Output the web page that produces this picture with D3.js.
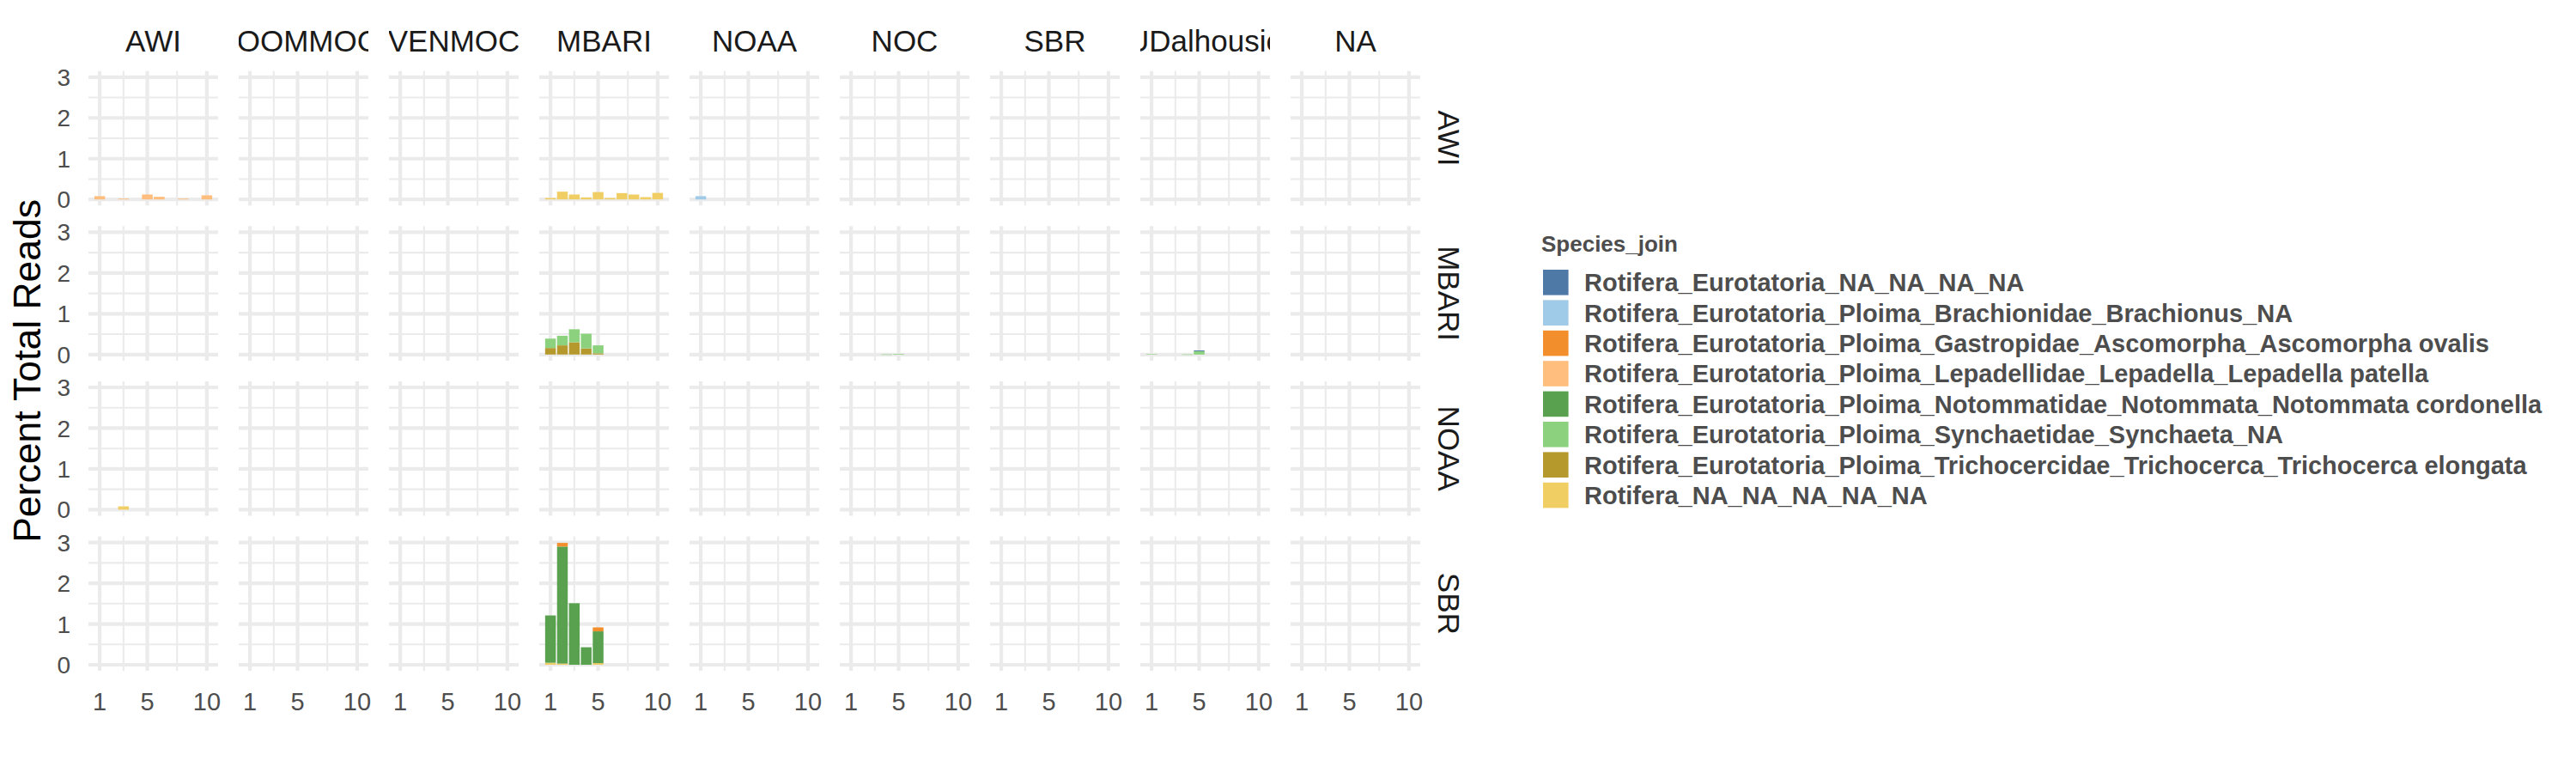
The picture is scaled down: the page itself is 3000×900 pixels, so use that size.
<!DOCTYPE html>
<html>
<head>
<meta charset="utf-8">
<script src="https://cdn.jsdelivr.net/npm/d3@7"></script>
<style>
  html, body { margin: 0; padding: 0; background: #ffffff; }
  svg { display: block; }
  text { font-family: "Liberation Sans", Arial, Helvetica, sans-serif; }
</style>
</head>
<body>
<svg id="chart" width="3000" height="900"></svg>
<script>
// ---------------- DATA ----------------
const colLabels = ["AWI", "IOOMMOC", "VENMOC", "MBARI", "NOAA", "NOC", "SBR", "UDalhousie", "NA"];
const rowLabels = ["AWI", "MBARI", "NOAA", "SBR"];
const species = [
  "Rotifera_Eurotatoria_NA_NA_NA_NA",
  "Rotifera_Eurotatoria_Ploima_Brachionidae_Brachionus_NA",
  "Rotifera_Eurotatoria_Ploima_Gastropidae_Ascomorpha_Ascomorpha ovalis",
  "Rotifera_Eurotatoria_Ploima_Lepadellidae_Lepadella_Lepadella patella",
  "Rotifera_Eurotatoria_Ploima_Notommatidae_Notommata_Notommata cordonella",
  "Rotifera_Eurotatoria_Ploima_Synchaetidae_Synchaeta_NA",
  "Rotifera_Eurotatoria_Ploima_Trichocercidae_Trichocerca_Trichocerca elongata",
  "Rotifera_NA_NA_NA_NA_NA"
];
const speciesColors = ["#4E79A7", "#A0CBE8", "#F28E2B", "#FFBE7D", "#59A14F", "#8CD17D", "#B6992D", "#F1CE63"];
const samples = [1, 2, 3, 4, 5, 6, 7, 8, 9, 10];
const xTicks = [1, 5, 10];
const yTicks = [0, 1, 2, 3];

// values per sample (1..10), percent of total reads
// row AWI
const awi_AWI_Lepadella     = [0.08, 0, 0.02, 0, 0.12, 0.065, 0, 0.02, 0, 0.10];
const awi_MBARI_RotiferaNA  = [0.035, 0.19, 0.12, 0.05, 0.18, 0.035, 0.155, 0.12, 0.056, 0.16];
const awi_NOAA_Brachionus   = [0.08, 0, 0, 0, 0, 0, 0, 0, 0, 0];
// row MBARI
const mbari_MBARI_Trichocerca = [0.16, 0.225, 0.30, 0.15, 0.03, 0, 0, 0, 0, 0];
const mbari_MBARI_Synchaeta   = [0.23, 0.235, 0.32, 0.36, 0.195, 0, 0, 0, 0, 0];
const mbari_NOC_Synchaeta     = [0, 0, 0, 0.004, 0.015, 0, 0, 0, 0, 0];
const mbari_UDal_Synchaeta    = [0.01, 0, 0, 0.004, 0.08, 0, 0, 0, 0, 0];
const mbari_UDal_EurotNA      = [0, 0, 0, 0, 0.02, 0, 0, 0, 0, 0];
// row NOAA
const noaa_AWI_RotiferaNA     = [0, 0, 0.08, 0, 0, 0, 0, 0, 0, 0];
// row SBR
const sbr_MBARI_RotiferaNA    = [0.05, 0.03, 0, 0, 0.04, 0, 0, 0, 0, 0];
const sbr_MBARI_Notommata     = [1.16, 2.87, 1.51, 0.43, 0.78, 0, 0, 0, 0, 0];
const sbr_MBARI_Ascomorpha    = [0, 0.09, 0, 0, 0.097, 0, 0, 0, 0, 0];

// series table: [row, column, species index, values]
const seriesTable = [
  ["AWI", "AWI", 3, awi_AWI_Lepadella],
  ["AWI", "MBARI", 7, awi_MBARI_RotiferaNA],
  ["AWI", "NOAA", 1, awi_NOAA_Brachionus],
  ["MBARI", "MBARI", 6, mbari_MBARI_Trichocerca],
  ["MBARI", "MBARI", 5, mbari_MBARI_Synchaeta],
  ["MBARI", "NOC", 5, mbari_NOC_Synchaeta],
  ["MBARI", "UDalhousie", 5, mbari_UDal_Synchaeta],
  ["MBARI", "UDalhousie", 0, mbari_UDal_EurotNA],
  ["NOAA", "AWI", 7, noaa_AWI_RotiferaNA],
  ["SBR", "MBARI", 7, sbr_MBARI_RotiferaNA],
  ["SBR", "MBARI", 4, sbr_MBARI_Notommata],
  ["SBR", "MBARI", 2, sbr_MBARI_Ascomorpha]
];

// ---------------- LAYOUT ----------------
const panelLeft0 = 103, panelStep = 175, panelW = 151;
const rowTop0 = 82.7, rowStep = 180.6, panelH = 156.6;
const gridColor = "#EBEBEB";
const majorW = 4.2, minorW = 2.1;

const svg = d3.select("#chart");
svg.append("rect").attr("width", 3000).attr("height", 900).attr("fill", "#ffffff");

// build records (long format)
const records = [];
seriesTable.forEach(([r, c, s, vals]) => {
  vals.forEach((v, i) => { if (v > 0) records.push({ row: r, col: c, sp: s, sample: samples[i], value: v }); });
});

// stacking: first factor level on top -> stack from last level at bottom
const stacked = [];
const groups = d3.group(records, d => d.row, d => d.col, d => d.sample);
groups.forEach((byCol, r) => byCol.forEach((bySample, c) => bySample.forEach((arr, smp) => {
  let base = 0;
  arr.slice().sort((a, b) => b.sp - a.sp).forEach(d => {
    stacked.push({ ...d, y0: base, y1: base + d.value });
    base += d.value;
  });
})));

// scales
const barW = 0.9;
const xLo = d3.min(samples) - barW / 2, xHi = d3.max(samples) + barW / 2;
const xPad = (xHi - xLo) * 0.05;
const x = d3.scaleLinear().domain([xLo - xPad, xHi + xPad]).range([0, panelW]);
const yMax = 3.0;
const yPad = yMax * 0.05;
const y = d3.scaleLinear().domain([-yPad, yMax + yPad]).range([panelH, 0]);
const xMinor = [3, 7.5];
const yMinor = [0.5, 1.5, 2.5];

const colX = d3.scaleBand().domain(colLabels).range([panelLeft0, panelLeft0 + panelStep * colLabels.length]).paddingInner(0);
const rowY = d3.scaleBand().domain(rowLabels).range([rowTop0, rowTop0 + rowStep * rowLabels.length]);

const defs = svg.append("defs");
colLabels.forEach((c, ci) => {
  defs.append("clipPath").attr("id", "clipcol" + ci)
    .append("rect").attr("x", colX(c)).attr("y", 0).attr("width", panelW).attr("height", 80);
});

// panels
rowLabels.forEach(r => {
  colLabels.forEach(c => {
    const g = svg.append("g").attr("transform", `translate(${colX(c)},${rowY(r)})`);
    // minor grid
    g.selectAll(".ymin").data(yMinor).join("line")
      .attr("x1", 0).attr("x2", panelW).attr("y1", d => y(d)).attr("y2", d => y(d))
      .attr("stroke", gridColor).attr("stroke-width", minorW);
    g.selectAll(".xmin").data(xMinor).join("line")
      .attr("y1", 0).attr("y2", panelH).attr("x1", d => x(d)).attr("x2", d => x(d))
      .attr("stroke", gridColor).attr("stroke-width", minorW);
    // major grid
    g.selectAll(".ymaj").data(yTicks).join("line")
      .attr("x1", 0).attr("x2", panelW).attr("y1", d => y(d)).attr("y2", d => y(d))
      .attr("stroke", gridColor).attr("stroke-width", majorW);
    g.selectAll(".xmaj").data(xTicks).join("line")
      .attr("y1", 0).attr("y2", panelH).attr("x1", d => x(d)).attr("x2", d => x(d))
      .attr("stroke", gridColor).attr("stroke-width", majorW);
    // bars
    const data = stacked.filter(d => d.row === r && d.col === c);
    g.selectAll("rect.bar").data(data).join("rect").attr("class", "bar")
      .attr("x", d => x(d.sample - barW / 2))
      .attr("width", d => x(d.sample + barW / 2) - x(d.sample - barW / 2))
      .attr("y", d => y(d.y1))
      .attr("height", d => Math.max(0.6, y(d.y0) - y(d.y1)))
      .attr("fill", d => speciesColors[d.sp]);
  });
});

// top strip labels (clipped to panel width)
colLabels.forEach((c, ci) => {
  svg.append("text")
    .attr("clip-path", `url(#clipcol${ci})`)
    .attr("x", colX(c) + panelW / 2).attr("y", 60)
    .attr("text-anchor", "middle")
    .attr("font-size", 35).attr("fill", "#1A1A1A")
    .text(c);
});

// right strip labels
rowLabels.forEach(r => {
  svg.append("text")
    .attr("transform", `translate(1675,${rowY(r) + panelH / 2}) rotate(90)`)
    .attr("text-anchor", "middle")
    .attr("font-size", 35).attr("fill", "#1A1A1A")
    .text(r);
});

// y axis tick labels (first column only)
rowLabels.forEach(r => {
  svg.append("g").selectAll("text").data(yTicks).join("text")
    .attr("x", 82).attr("y", d => rowY(r) + y(d))
    .attr("dy", "0.36em")
    .attr("text-anchor", "end")
    .attr("font-size", 28).attr("fill", "#4D4D4D")
    .text(d => d);
});

// x axis tick labels (bottom row)
colLabels.forEach(c => {
  svg.append("g").selectAll("text").data(xTicks).join("text")
    .attr("x", d => colX(c) + x(d)).attr("y", 826.5)
    .attr("text-anchor", "middle")
    .attr("font-size", 29).attr("fill", "#4D4D4D")
    .text(d => d);
});

// y axis title
svg.append("text")
  .attr("transform", `translate(47,${rowTop0 + (rowStep * 3 + panelH) / 2}) rotate(-90)`)
  .attr("text-anchor", "middle")
  .attr("font-size", 44.5).attr("fill", "#000000")
  .text("Percent Total Reads");

// legend
const lg = svg.append("g");
lg.append("text").attr("x", 1795).attr("y", 293)
  .attr("font-size", 26).attr("font-weight", "bold").attr("fill", "#4D4D4D")
  .text("Species_join");
const keyStep = 35.4, keyTop = 314, keySize = 29.6;
species.forEach((s, i) => {
  lg.append("rect").attr("x", 1797).attr("y", keyTop + i * keyStep)
    .attr("width", keySize).attr("height", keySize).attr("fill", speciesColors[i]);
  lg.append("text").attr("x", 1845).attr("y", keyTop + i * keyStep + keySize / 2)
    .attr("dy", "0.36em")
    .attr("font-size", 29).attr("font-weight", "bold").attr("fill", "#4D4D4D")
    .text(s);
});
</script>
</body>
</html>
